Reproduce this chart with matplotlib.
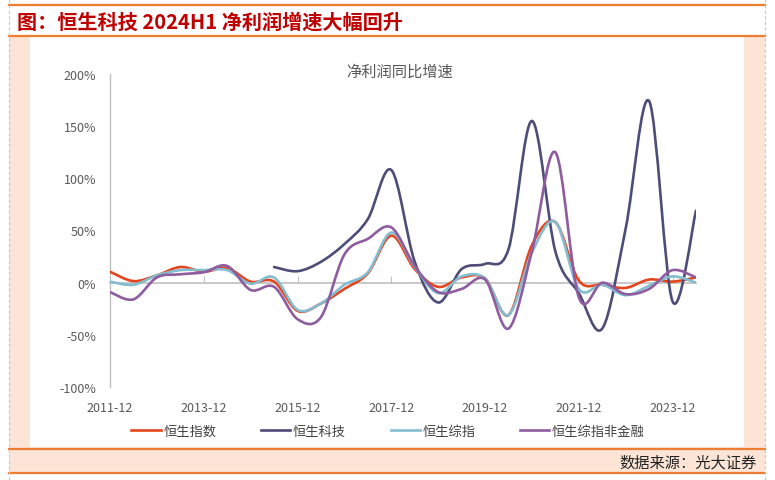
import numpy as np
import matplotlib
matplotlib.use("Agg")
import matplotlib.pyplot as plt
from matplotlib.path import Path
from matplotlib.patches import PathPatch, Rectangle
from matplotlib.lines import Line2D

plt.rcParams['font.family'] = ['Noto Sans CJK SC', 'DejaVu Sans']

# half-year periods, 2011-12 .. 2024-06
periods = ["2011-12", "2012-06", "2012-12", "2013-06", "2013-12", "2014-06",
           "2014-12", "2015-06", "2015-12", "2016-06", "2016-12", "2017-06",
           "2017-12", "2018-06", "2018-12", "2019-06", "2019-12", "2020-06",
           "2020-12", "2021-06", "2021-12", "2022-06", "2022-12", "2023-06",
           "2023-12", "2024-06"]

# net profit yoy growth, %
hsi = [10.5, 1.5, 7, 15, 10.5, 14, 1, 1, -27, -20, -6, 9, 45, 13, -4, 5,
       4, -31, 36, 58, 2, -2, -5, 3, 1, 5]
hstech = [np.nan] * 7 + [15, 11, 20, 37, 61, 108, 20, -19, 13, 18, 32, 155,
                         30, -10, -44, 52, 174, -18, 69]
hsci = [1, -2, 7, 12, 12, 12, -1, 5, -26, -20, -2, 10, 48, 15, -10, 6,
        4, -31, 29, 58, -6, -2, -12, -3, 6, 0]
hsci_nonfin = [-9, -16, 5, 8, 10, 16, -7, -4, -35, -33, 27, 42, 53, 16, -9, -6,
               3, -44, 30, 125, -14, 0, -11, -6, 12, 5]

series = [("恒生指数", hsi, "#E5451C"),
          ("恒生科技", hstech, "#4E4D78"),
          ("恒生综指", hsci, "#84BDD0"),
          ("恒生综指非金融", hsci_nonfin, "#8E5C9F")]

W, H = 775, 481
fig = plt.figure(figsize=(W / 100, H / 100), dpi=100)


def box(x0, y0, x1, y1, color, z=-5):
    # pixel box (top-left origin) -> figure coords
    fig.patches.append(Rectangle((x0 / W, 1 - y1 / H), (x1 - x0) / W, (y1 - y0) / H,
                                 transform=fig.transFigure, color=color, zorder=z, lw=0))


def hline(y, x0, x1, color, lw=1.6):
    fig.add_artist(Line2D([x0 / W, x1 / W], [1 - y / H, 1 - y / H], color=color, lw=lw,
                          transform=fig.transFigure))


def vline(x, y0, y1):
    fig.add_artist(Line2D([x / W, x / W], [1 - y0 / H, 1 - y1 / H], color="#C8C8C8", lw=0.8,
                          ls=(0, (3, 2)), transform=fig.transFigure))


peach = "#FCE4D6"
orange = "#ED7D31"
box(9, 37, 765, 474, peach, z=-6)
box(30, 38, 744, 448, "white", z=-5)
hline(6, 9, 765, orange)
hline(36.5, 9, 765, orange)
hline(450, 9, 765, orange)
hline(474, 9, 765, orange)
vline(9, 0, 481)
vline(765, 0, 481)

fig.text(17 / W, 1 - 22 / H, "图：恒生科技 2024H1 净利润增速大幅回升", color="#C00000",
         fontsize=14.5, fontweight="bold", va="center", ha="left")
fig.text(757 / W, 1 - 463 / H, "数据来源：光大证券", color="#222222",
         fontsize=11, va="center", ha="right")
fig.text(400 / W, 1 - 72 / H, "净利润同比增速", color="#595959",
         fontsize=11, va="center", ha="center")

ax = fig.add_axes([110 / W, 93 / H, 586 / W, 313 / H])
ax.set_facecolor("none")
x = np.arange(len(periods))


def smooth_path(xs, ys):
    verts = [(xs[0], ys[0])]
    codes = [Path.MOVETO]
    n = len(xs)
    for i in range(n - 1):
        a = i - 1 if i > 0 else i
        b = i + 2 if i + 2 < n else i + 1
        c1 = (xs[i] + (xs[i + 1] - xs[a]) / 6, ys[i] + (ys[i + 1] - ys[a]) / 6)
        c2 = (xs[i + 1] - (xs[b] - xs[i]) / 6, ys[i + 1] - (ys[b] - ys[i]) / 6)
        verts += [c1, c2, (xs[i + 1], ys[i + 1])]
        codes += [Path.CURVE4] * 3
    return Path(verts, codes)


handles = []
for name, vals, col in series:
    v = np.array(vals, dtype=float)
    ok = ~np.isnan(v)
    ax.add_patch(PathPatch(smooth_path(x[ok], v[ok]), fill=False, edgecolor=col,
                           lw=1.9, zorder=3, capstyle="round", joinstyle="round"))
    handles.append(Line2D([], [], color=col, lw=1.9, label=name))

ax.set_xlim(0, len(periods) - 1)
ax.set_ylim(-100, 200)
ax.set_yticks(np.arange(-100, 201, 50))
ax.set_yticklabels([f"{t}%" for t in range(-100, 201, 50)])
ax.set_xticks(x[::4])
ax.set_xticklabels(periods[::4])
ax.tick_params(length=0, colors="#595959", labelsize=9)
ax.tick_params(axis="y", pad=10)
ax.tick_params(axis="x", pad=10)
for s in ["top", "right", "bottom"]:
    ax.spines[s].set_visible(False)
ax.spines["left"].set_color("#BFBFBF")
ax.spines["left"].set_linewidth(1)

# category axis drawn through zero
zax = ax.secondary_xaxis(1 / 3)
zax.set_xticks(x[::4])
zax.tick_params(direction="in", length=5, color="#BFBFBF", labelbottom=False)
zax.spines["bottom"].set_color("#BFBFBF")
zax.spines["bottom"].set_linewidth(1.2)

leg = fig.legend(handles=handles, loc="center", bbox_to_anchor=(388 / W, 1 - 432 / H),
                 ncol=4, frameon=False, fontsize=9.5, handlelength=2.2,
                 handletextpad=0.2, columnspacing=3.4)
for t in leg.get_texts():
    t.set_color("#404040")

fig.savefig("out.png", dpi=100)
